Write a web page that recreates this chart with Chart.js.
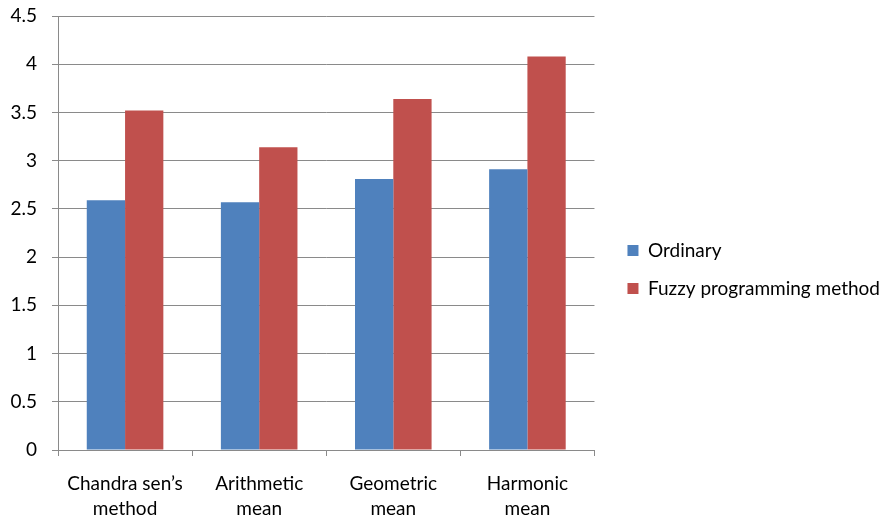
<!DOCTYPE html>
<html>
<head>
<meta charset="utf-8">
<script src="https://cdn.jsdelivr.net/npm/chart.js@4/dist/chart.umd.min.js"></script>
<style>
  html, body { margin: 0; padding: 0; background: #ffffff; }
  #wrap { width: 895px; height: 520px; position: relative; }
</style>
</head>
<body>
<div id="wrap"><canvas id="chart"></canvas></div>
<script>
// Category labels (two lines each)
const categories = [
  ["Chandra sen\u2019s", "method"],
  ["Arithmetic", "mean"],
  ["Geometric", "mean"],
  ["Harmonic", "mean"]
];
// Series values
const ordinary = [2.59, 2.57, 2.81, 2.91];
const fuzzy = [3.52, 3.14, 3.64, 4.08];
const seriesNames = ["Ordinary", "Fuzzy programming method"];
// Value axis ticks
const yMin = 0;
const yMax = 4.5;
const yStep = 0.5;

const FONT = "Lato, 'Open Sans', sans-serif";
const AXIS_GREY = "#8a8a8a";

new Chart(document.getElementById("chart"), {
  type: "bar",
  data: {
    labels: categories,
    datasets: [
      { label: seriesNames[0], data: ordinary, backgroundColor: "#4F81BD" },
      { label: seriesNames[1], data: fuzzy, backgroundColor: "#C0504D" }
    ]
  },
  options: {
    responsive: true,
    maintainAspectRatio: false,
    animation: false,
    devicePixelRatio: 1,
    layout: { padding: { left: 0, top: 0, right: 5, bottom: 0 } },
    datasets: { bar: { categoryPercentage: 0.571, barPercentage: 1.0 } },
    plugins: {
      title: { display: false },
      tooltip: { enabled: false },
      legend: {
        position: "right",
        align: "center",
        maxWidth: 320,
        title: { display: true, text: " ", padding: 0, font: { size: 16 } },
        labels: {
          font: { family: FONT, size: 19 },
          color: "#000000",
          boxWidth: 11,
          boxHeight: 11,
          padding: 19
        }
      }
    },
    scales: {
      x: {
        grid: {
          display: true,
          drawOnChartArea: false,
          drawTicks: true,
          tickLength: 6,
          color: AXIS_GREY,
          offset: true
        },
        border: { display: true, color: AXIS_GREY, width: 1 },
        ticks: {
          font: { family: FONT, size: 19, lineHeight: 1.316 },
          color: "#000000",
          padding: 15,
          maxRotation: 0,
          autoSkip: false
        },
        afterFit: (s) => { s.height = 70; }
      },
      y: {
        min: yMin,
        max: yMax,
        grid: {
          color: AXIS_GREY,
          lineWidth: 1,
          drawTicks: true,
          tickLength: 6
        },
        border: { display: true, color: AXIS_GREY, width: 1 },
        ticks: {
          stepSize: yStep,
          font: { family: FONT, size: 19 },
          color: "#000000",
          padding: 15,
          callback: (v) => String(v)
        },
        afterFit: (s) => { s.width = 58; s.paddingTop = 16; s.paddingBottom = 0; }
      },
      // empty spacer between the plot area and the legend
      gap: {
        type: "linear",
        position: "right",
        display: true,
        grid: { display: false, drawTicks: false },
        border: { display: false },
        ticks: { display: false },
        afterFit: (s) => { s.width = 14; }
      }
    }
  }
});
</script>
</body>
</html>
